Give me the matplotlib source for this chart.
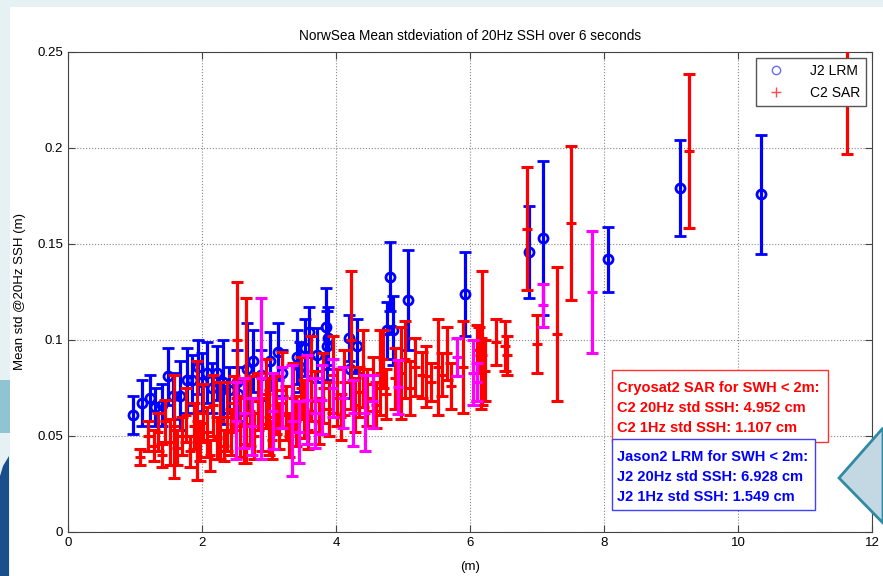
import matplotlib
matplotlib.use("Agg")
import matplotlib.pyplot as plt
from matplotlib.lines import Line2D
from matplotlib.patches import Rectangle, Polygon

plt.rcParams['font.family'] = ['Liberation Sans', 'DejaVu Sans']

# J2 LRM (blue): swh, mean std, error
j2_x = [0.97, 1.10, 1.22, 1.30, 1.40, 1.49, 1.57, 1.67, 1.77, 1.85, 1.94, 2.00, 2.08, 2.15,
        2.22, 2.31, 2.40, 2.52, 2.53, 2.67, 2.76, 2.88, 3.01, 3.13, 3.20, 3.42, 3.46, 3.54,
        3.60, 3.72, 3.85, 3.88, 3.87, 4.19, 4.21, 4.31, 4.76, 4.81, 4.85, 5.07, 5.93, 6.88,
        7.09, 8.06, 9.13, 10.34]
j2_y = [0.061, 0.067, 0.070, 0.065, 0.066, 0.081, 0.071, 0.071, 0.079, 0.079, 0.086, 0.078,
        0.083, 0.075, 0.083, 0.078, 0.074, 0.078, 0.072, 0.085, 0.089, 0.082, 0.089, 0.094,
        0.083, 0.091, 0.086, 0.096, 0.104, 0.092, 0.107, 0.101, 0.097, 0.101, 0.085, 0.097,
        0.105, 0.133, 0.105, 0.121, 0.124, 0.146, 0.153, 0.142, 0.179, 0.176]
j2_err = [0.010, 0.012, 0.012, 0.010, 0.011, 0.015, 0.012, 0.018, 0.017, 0.013, 0.014, 0.015,
          0.016, 0.013, 0.014, 0.022, 0.012, 0.017, 0.014, 0.024, 0.016, 0.013, 0.015, 0.015,
          0.012, 0.014, 0.013, 0.015, 0.013, 0.014, 0.020, 0.016, 0.018, 0.012, 0.015, 0.014,
          0.015, 0.018, 0.018, 0.026, 0.022, 0.024, 0.040, 0.017, 0.025, 0.031]

# C2 SAR (red)
c2_x = [1.07, 1.20, 1.28, 1.35, 1.40, 1.45, 1.52, 1.58, 1.63, 1.70, 1.76, 1.82, 1.88, 1.92,
        1.97, 2.02, 2.07, 2.12, 2.17, 2.22, 2.27, 2.33, 2.38, 2.43, 2.48, 2.52, 2.57, 2.62,
        2.66, 2.72, 2.78, 2.83, 2.90, 2.95, 3.00, 3.05, 3.10, 3.15, 3.20, 3.25, 3.30, 3.36,
        3.40, 3.48, 3.52, 3.58, 3.62, 3.68, 3.75, 3.80, 3.90, 3.95, 4.02, 4.08, 4.12, 4.22,
        4.28, 4.35, 4.40, 4.47, 4.55, 4.60, 4.66, 4.70, 4.75, 4.88, 4.97, 5.03, 5.10, 5.18,
        5.28, 5.35, 5.42, 5.52, 5.58, 5.65, 5.72, 5.90, 6.10, 6.13, 6.16, 6.18, 6.22, 6.39,
        6.52, 6.55, 6.85, 7.00, 7.30, 7.50, 9.27, 11.63]
c2_y = [0.039, 0.050, 0.045, 0.052, 0.040, 0.058, 0.047, 0.055, 0.044, 0.050, 0.061, 0.042,
        0.055, 0.058, 0.047, 0.062, 0.052, 0.040, 0.066, 0.049, 0.058, 0.045, 0.060, 0.052,
        0.067, 0.100, 0.055, 0.046, 0.079, 0.063, 0.050, 0.068, 0.056, 0.072, 0.060, 0.048,
        0.066, 0.055, 0.074, 0.062, 0.050, 0.070, 0.058, 0.075, 0.064, 0.053, 0.080, 0.068,
        0.058, 0.075, 0.064, 0.082, 0.070, 0.060, 0.078, 0.100, 0.066, 0.073, 0.085, 0.070,
        0.077, 0.066, 0.083, 0.090, 0.072, 0.080, 0.083, 0.090, 0.075, 0.086, 0.082, 0.081,
        0.078, 0.086, 0.082, 0.093, 0.076, 0.086, 0.088, 0.095, 0.078, 0.101, 0.084, 0.099,
        0.097, 0.092, 0.158, 0.098, 0.103, 0.161, 0.1985, 0.235]
c2_err = [0.004, 0.008, 0.008, 0.010, 0.006, 0.011, 0.012, 0.027, 0.009, 0.010, 0.014, 0.008,
          0.012, 0.031, 0.010, 0.015, 0.013, 0.008, 0.016, 0.011, 0.020, 0.008, 0.018, 0.012,
          0.014, 0.030, 0.016, 0.010, 0.043, 0.018, 0.012, 0.015, 0.014, 0.018, 0.020, 0.010,
          0.015, 0.012, 0.020, 0.014, 0.011, 0.018, 0.013, 0.016, 0.015, 0.010, 0.022, 0.016,
          0.012, 0.018, 0.014, 0.020, 0.015, 0.012, 0.017, 0.036, 0.014, 0.013, 0.020, 0.015,
          0.014, 0.012, 0.022, 0.015, 0.013, 0.016, 0.024, 0.020, 0.014, 0.015, 0.012, 0.016,
          0.010, 0.025, 0.011, 0.014, 0.012, 0.024, 0.020, 0.012, 0.014, 0.035, 0.016, 0.012,
          0.013, 0.010, 0.032, 0.015, 0.035, 0.040, 0.040, 0.038]

# magenta series (no legend entry)
mg_x = [2.50, 2.62, 2.75, 2.88, 3.06, 3.20, 3.34, 3.45, 3.57, 3.68, 3.79, 3.95, 4.10, 4.25,
        4.43, 4.55, 4.93, 5.81, 6.05, 6.10, 7.09, 7.82]
mg_y = [0.058, 0.062, 0.055, 0.080, 0.063, 0.070, 0.058, 0.052, 0.069, 0.062, 0.069, 0.075,
        0.070, 0.062, 0.062, 0.068, 0.0755, 0.091, 0.083, 0.078, 0.118, 0.125]
mg_err = [0.020, 0.018, 0.015, 0.042, 0.020, 0.016, 0.029, 0.016, 0.023, 0.018, 0.018, 0.015,
          0.016, 0.017, 0.020, 0.014, 0.014, 0.010, 0.017, 0.010, 0.011, 0.032]

c2_lines = ["Cryosat2 SAR for SWH < 2m:", "C2 20Hz std SSH: 4.952 cm", "C2 1Hz std SSH: 1.107 cm"]
j2_lines = ["Jason2 LRM for SWH < 2m:", "J2 20Hz std SSH: 6.928 cm", "J2 1Hz std SSH: 1.549 cm"]

fig = plt.figure(figsize=(8.83, 5.76), dpi=100)
fig.patch.set_facecolor('#e6f1f4')

# slide background bits around the matlab figure
fig.patches.append(Rectangle((10/883, 0), 1, 569/576, transform=fig.transFigure,
                             fc='white', ec='none', zorder=-10))
fig.patches.append(Rectangle((0, (576-433)/576), 10/883, 53/576, transform=fig.transFigure,
                             fc='#8fc4d2', ec='none', zorder=-10))
fig.patches.append(Polygon([(0, 0), (9/883, 0), (9/883, 120/576), (3/883, 110/576), (0, 100/576)],
                           closed=True, transform=fig.transFigure, fc='#1b4f8c', ec='none', zorder=-10))
fig.patches.append(Polygon([(1.0, (576-428)/576), (839/883, (576-478)/576), (1.0, (576-523)/576)],
                           closed=True, transform=fig.transFigure, fc='#c4d8e3', ec='#2f8aa3',
                           lw=2, zorder=5))

ax = fig.add_axes([68/883, 44/576, 804/883, 480/576])

ax.errorbar(j2_x, j2_y, yerr=j2_err, fmt='o', color='#0000ff', mfc='none', ms=6.5, mew=2,
            elinewidth=2.3, capsize=4, capthick=2.3, zorder=3)
ax.errorbar(c2_x, c2_y, yerr=c2_err, fmt='+', color='#ff0000', ms=7, mew=2.2,
            elinewidth=2.3, capsize=4, capthick=2.3, zorder=4)
ax.errorbar(mg_x, mg_y, yerr=mg_err, fmt='+', color='#ff00ff', ms=7, mew=2.2,
            elinewidth=2.3, capsize=4, capthick=2.3, zorder=5)

ax.set_xlim(0, 12)
ax.set_ylim(0, 0.25)
ax.set_xticks(range(0, 13, 2))
ax.set_yticks([0, 0.05, 0.1, 0.15, 0.2, 0.25])
ax.set_yticklabels(['0', '0.05', '0.1', '0.15', '0.2', '0.25'])
ax.grid(True, linestyle=':', color='#888888', linewidth=0.8)
ax.set_axisbelow(True)
ax.tick_params(direction='in', top=True, right=True, labelsize=9.5, length=5, color='#444444')
for sp in ax.spines.values():
    sp.set_color('#444444')

ax.set_title("NorwSea Mean stdeviation of 20Hz SSH over 6 seconds", fontsize=9.8, pad=9)
ax.set_xlabel("(m)", fontsize=9.5, labelpad=9)
ax.set_ylabel("Mean std @20Hz SSH (m)", fontsize=9.5, labelpad=8)

handles = [Line2D([], [], ls='none', marker='o', mfc='none', mec='#6b6bff', ms=6, mew=1),
           Line2D([], [], ls='none', marker='+', color='#ff4b4b', ms=7, mew=1)]
leg = ax.legend(handles, ["J2 LRM", "C2 SAR"], loc='upper right',
                bbox_to_anchor=((866-68)/804, (532-58)/480), fontsize=10, fancybox=False,
                handlelength=2.0, handletextpad=1.4, borderpad=0.45, labelspacing=0.55,
                borderaxespad=0, framealpha=1)
leg.get_frame().set_edgecolor('#555555')
leg.get_frame().set_linewidth(1)
leg.set_zorder(10)

# info boxes
ax.add_patch(Rectangle((0.6766, 0.1875), 0.2687, 0.15, transform=ax.transAxes,
                       fc='white', ec='#ff3030', lw=1, zorder=8))
ax.add_patch(Rectangle((0.6766, 0.0458), 0.2525, 0.148, transform=ax.transAxes,
                       fc='white', ec='#4040ff', lw=1, zorder=9))
for i, s in enumerate(c2_lines):
    ax.text(0.6828, 0.300 - i*0.0417, s, transform=ax.transAxes, color='#ff0000',
            fontsize=10.5, fontweight='bold', va='center', ha='left', zorder=8.5)
for i, s in enumerate(j2_lines):
    ax.text(0.6828, 0.1562 - i*0.0417, s, transform=ax.transAxes, color='#0000ff',
            fontsize=10.5, fontweight='bold', va='center', ha='left', zorder=9.5)

fig.savefig("out.png", dpi=100)
